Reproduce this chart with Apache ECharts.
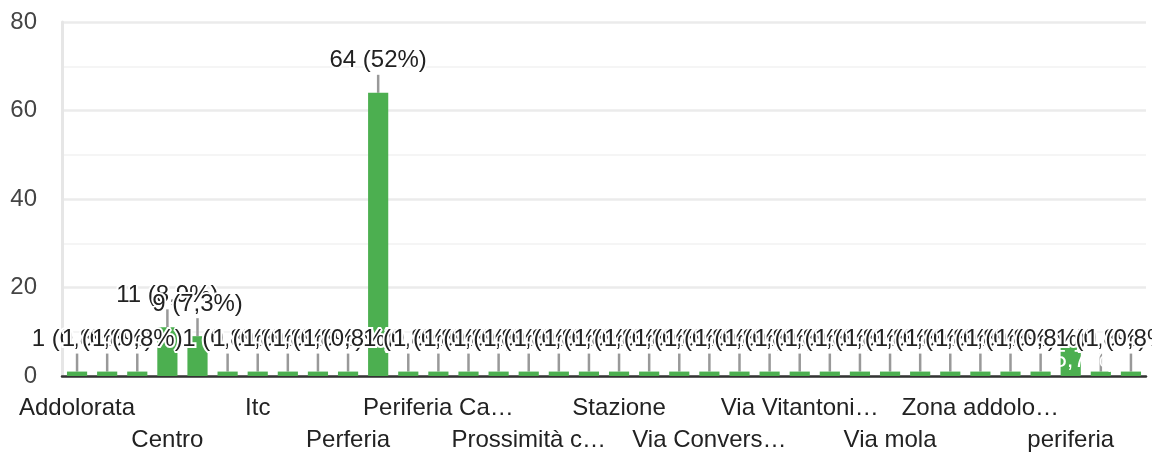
<!DOCTYPE html>
<html>
<head>
<meta charset="utf-8">
<script src="https://cdn.jsdelivr.net/npm/echarts@6/dist/echarts.min.js"></script>
<style>
  html, body { margin: 0; padding: 0; background: #fff; }
  #chart { width: 1152px; height: 452px; }
</style>
</head>
<body>
<div id="chart"></div>
<script>
// Categories as the form chart shows them (sorted, truncated where the picture truncates).
const categories = [
  'Addolorata', 'Addolorata zona', 'Borgo', 'Centro', 'Centro storico', 'Contrada',
  'Itc', 'Lama', 'Paese', 'Perferia', 'Periferia', 'Periferia Addolorata',
  'Periferia Ca…', 'Periferia Stazione', 'Porta', 'Prossimità c…', 'Quartiere', 'Semiperiferia',
  'Stazione', 'Vicino centro', 'Via Castellana', 'Via Convers…', 'Via Monopoli', 'Via Roma',
  'Via Vitantoni…', 'Via cimitero', 'Via madonna', 'Via mola', 'Via polignano', 'Zona 167',
  'Zona addolo…', 'Zona stazione', 'centro', 'periferia', 'stazione', 'zona centro'
];
const counts = [
  1, 1, 1, 11, 9, 1,
  1, 1, 1, 1, 64, 1,
  1, 1, 1, 1, 1, 1,
  1, 1, 1, 1, 1, 1,
  1, 1, 1, 1, 1, 1,
  1, 1, 1, 7, 1, 1
];
const yTicks = { min: 0, max: 80, interval: 20 };

const total = counts.reduce((a, b) => a + b, 0);
const pctText = v => {
  const p = v / total * 100;
  return (p >= 10 ? Math.round(p).toString() : p.toFixed(1).replace('.', ',')) + '%';
};

const FONT = '"Liberation Sans", Arial, sans-serif';
const SIZE = 24;
const INSIDE = 33; // this bar's label sits inside it, in white

// Tick labels come in two staggered rows: every 3rd category, alternating rows.
const labelRow = (row, margin) => ({
  interval: i => i % 6 === row * 3,
  color: '#222',
  fontFamily: FONT,
  fontSize: SIZE,
  margin
});

const chart = echarts.init(document.getElementById('chart'));
chart.setOption({
  animation: false,
  grid: { left: 62, right: 6, top: 22, bottom: 72 },
  xAxis: [{
    type: 'category',
    data: categories,
    axisLine: { lineStyle: { color: '#333', width: 2.5 } },
    axisTick: { show: false },
    axisLabel: labelRow(0, 20)
  }, {
    type: 'category',
    data: categories,
    position: 'bottom',
    axisLine: { show: false },
    axisTick: { show: false },
    axisLabel: labelRow(1, 52)
  }],
  yAxis: {
    type: 'value',
    min: yTicks.min,
    max: yTicks.max,
    interval: yTicks.interval,
    axisLine: { show: true, lineStyle: { color: '#e6e6e6', width: 3 } },
    axisTick: { show: false },
    axisLabel: { color: '#444', fontFamily: FONT, fontSize: SIZE, margin: 25 },
    splitLine: { lineStyle: { color: '#ebebeb', width: 2.5 } },
    minorTick: { show: false, splitNumber: 2 },
    minorSplitLine: { show: true, lineStyle: { color: '#f5f5f5', width: 2 } }
  },
  series: [{
    type: 'bar',
    barCategoryGap: '33%',
    itemStyle: { color: '#4caf50' },
    data: counts.map((v, i) => i === INSIDE
      ? { value: v, label: { position: 'inside', color: '#fff', textBorderWidth: 0 }, labelLine: { show: false } }
      : v),
    label: {
      show: true,
      position: 'top',
      distance: 5,
      color: '#222',
      fontFamily: FONT,
      fontSize: SIZE,
      textBorderColor: '#fff',
      textBorderWidth: 4,
      formatter: p => p.value + ' (' + pctText(p.value) + ')'
    },
    labelLayout: p => (p.dataIndex === INSIDE ? {} : { dy: -15 }),
    labelLine: { show: true, lineStyle: { color: '#999', width: 2.5 } }
  }]
});
</script>
</body>
</html>
